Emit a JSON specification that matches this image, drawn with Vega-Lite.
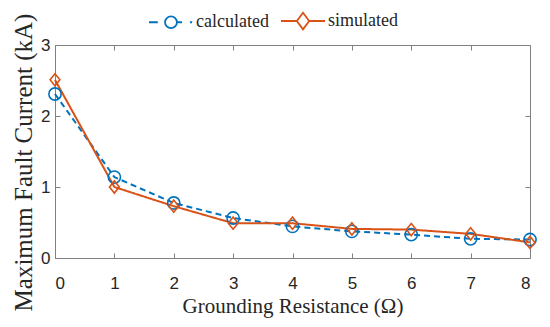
{
  "$schema": "https://vega.github.io/schema/vega-lite/v6.json",
  "autosize": {"type": "none"},
  "width": 475,
  "height": 213,
  "padding": {"left": 55, "top": 45, "right": 20, "bottom": 69},
  "background": "white",
  "config": {
    "view": {"stroke": null},
    "axis": {
      "grid": false,
      "domainColor": "#808080",
      "tickColor": "#808080",
      "domainWidth": 1,
      "tickWidth": 1,
      "labelFont": "Liberation Sans",
      "labelFontSize": 17,
      "labelColor": "#262626",
      "titleFont": "Liberation Serif",
      "titleFontSize": 21,
      "titleFontWeight": "normal",
      "titleColor": "#262626"
    }
  },
  "data": {
    "values": [
      {"r": 0, "s": "calculated", "i": 2.31},
      {"r": 1, "s": "calculated", "i": 1.14},
      {"r": 2, "s": "calculated", "i": 0.775},
      {"r": 3, "s": "calculated", "i": 0.563},
      {"r": 4, "s": "calculated", "i": 0.445},
      {"r": 5, "s": "calculated", "i": 0.375},
      {"r": 6, "s": "calculated", "i": 0.33},
      {"r": 7, "s": "calculated", "i": 0.27},
      {"r": 8, "s": "calculated", "i": 0.26},
      {"r": 0, "s": "simulated", "i": 2.51},
      {"r": 1, "s": "simulated", "i": 1.0},
      {"r": 2, "s": "simulated", "i": 0.73},
      {"r": 3, "s": "simulated", "i": 0.49},
      {"r": 4, "s": "simulated", "i": 0.49},
      {"r": 5, "s": "simulated", "i": 0.41},
      {"r": 6, "s": "simulated", "i": 0.40},
      {"r": 7, "s": "simulated", "i": 0.34},
      {"r": 8, "s": "simulated", "i": 0.22}
    ]
  },
  "layer": [
    {
      "mark": {"type": "line", "strokeWidth": 2},
      "encoding": {
        "x": {"field": "r", "type": "quantitative", "scale": {"domain": [0, 8], "nice": false},
              "axis": {"orient": "bottom", "values": [0,1,2,3,4,5,6,7,8], "tickSize": -5, "labelPadding": 22, "title": "Grounding Resistance (Ω)", "titlePadding": 4}},
        "y": {"field": "i", "type": "quantitative", "scale": {"domain": [0, 3], "nice": false},
              "axis": {"orient": "left", "values": [0,1,2,3], "tickSize": -5, "labelPadding": 10, "title": "Maximum Fault Current (kA)", "titleFontSize": 25, "titlePadding": 4, "titleY": 117}},
        "color": {"field": "s", "type": "nominal", "scale": {"domain": ["calculated", "simulated"], "range": ["#0072BD", "#D95319"]},
                  "legend": {
                    "orient": "none", "legendX": 93, "legendY": -47, "direction": "horizontal", "title": null,
                    "padding": 0, "columnPadding": 8, "labelOffset": 2, "symbolSize": 1936,
                    "labelFont": "Liberation Serif", "labelFontSize": 18, "labelColor": "#262626",
                    "symbolStrokeWidth": 1.8,
                    "encode": {"symbols": {"update": {
                      "shape": {"signal": "datum.value === 'calculated' ? 'M-1,0H-0.6M0.27,0H0.5M0.86,0H0.96M-0.27,0A0.27,0.27 0 1,0 0.27,0A0.27,0.27 0 1,0 -0.27,0' : 'M-1,0H-0.28M0.28,0H1M-0.28,0L0,-0.38L0.28,0L0,0.38Z'"},
                      "fill": {"value": "transparent"},
                      "stroke": {"signal": "datum.value === 'calculated' ? '#0072BD' : '#D95319'"},
                      "strokeWidth": {"value": 1.8},
                      "opacity": {"value": 1}
                    }}}
                  }},
        "detail": {"field": "s", "type": "nominal"},
        "strokeDash": {"condition": {"test": "datum.s === 'calculated'", "value": [6, 4]}, "value": [1, 0]}
      }
    },
    {
      "mark": {"type": "point", "filled": false, "strokeWidth": 1.6, "opacity": 1},
      "encoding": {
        "x": {"field": "r", "type": "quantitative",
              "axis": {"orient": "top", "values": [0,1,2,3,4,5,6,7,8], "tickSize": -5, "labels": false, "title": null}},
        "y": {"field": "i", "type": "quantitative",
              "axis": {"orient": "right", "values": [0,1,2,3], "tickSize": -5, "labels": false, "title": null}},
        "color": {"field": "s", "type": "nominal"},
        "shape": {"condition": {"test": "datum.s === 'calculated'", "value": "circle"}, "value": "M-0.8,0L0,-1L0.8,0L0,1Z"},
        "size": {"value": 150}
      }
    }
  ],
  "resolve": {"axis": {"x": "independent", "y": "independent"}}
}
